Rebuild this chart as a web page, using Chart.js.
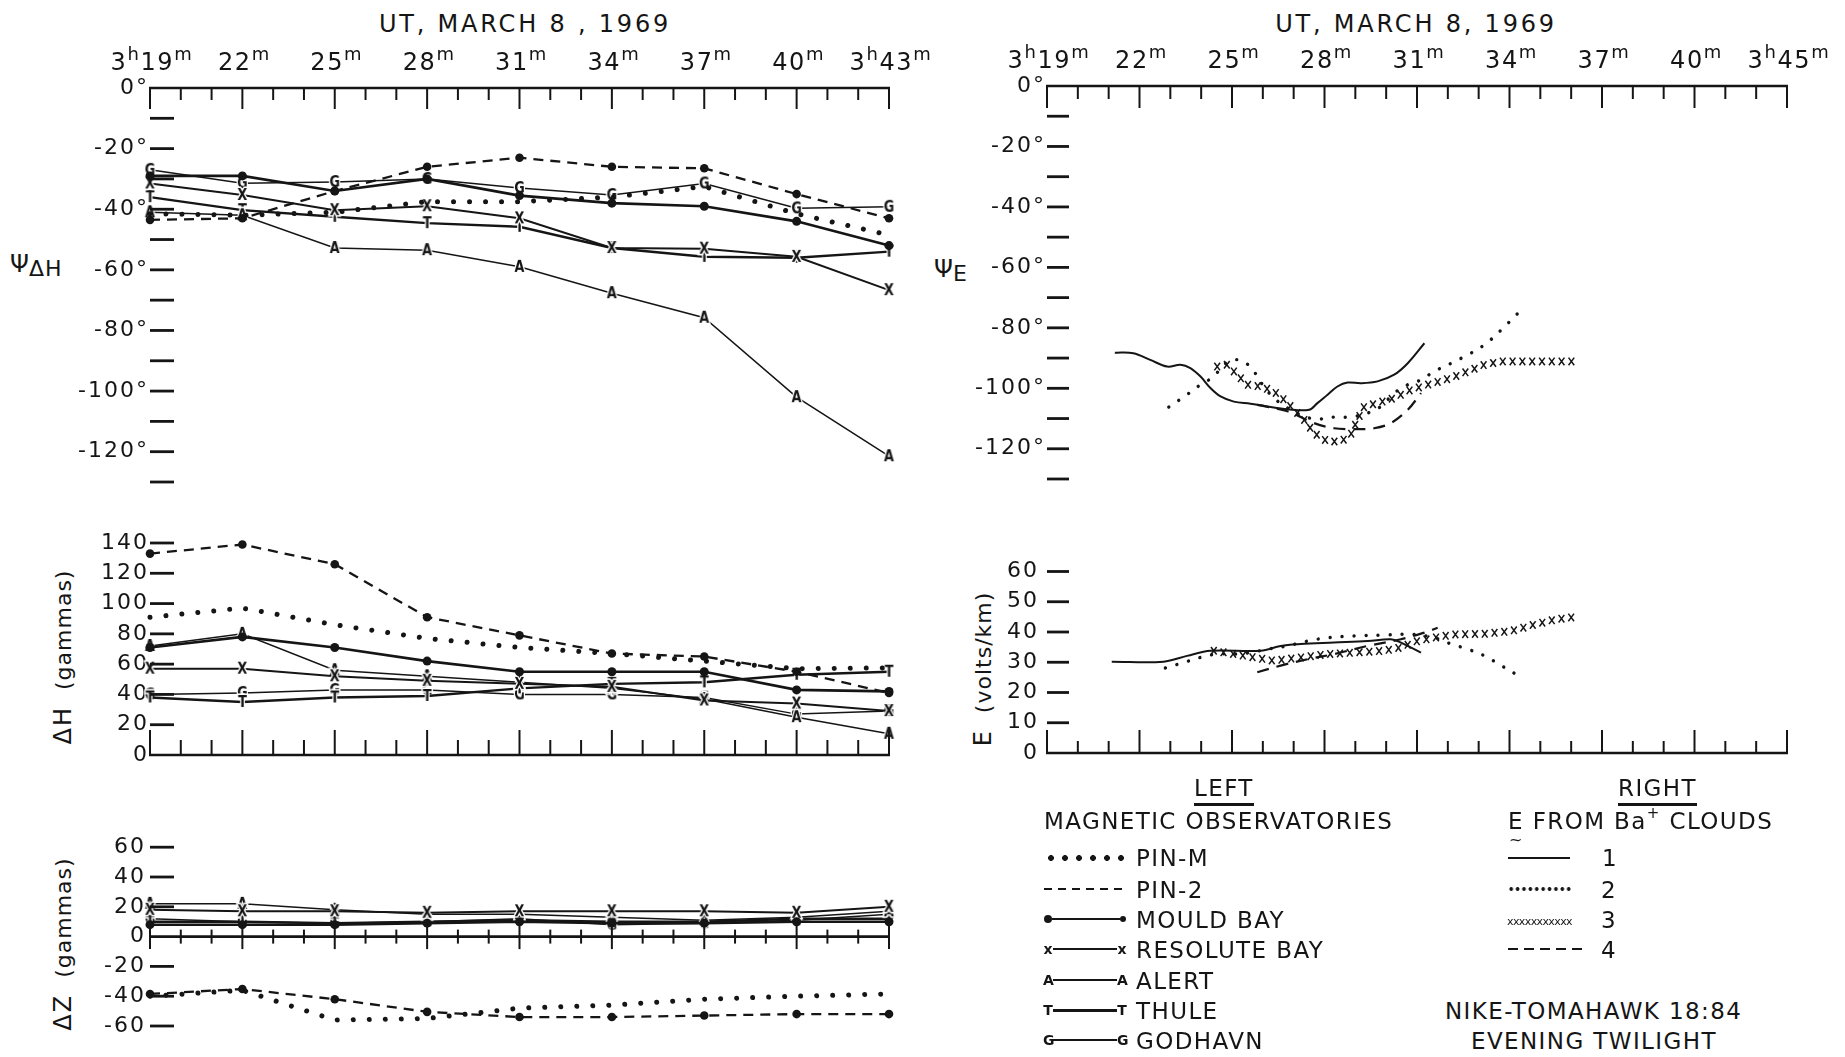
<!DOCTYPE html>
<html>
<head>
<meta charset="utf-8">
<script src="https://cdn.jsdelivr.net/npm/chart.js@4.4.1/dist/chart.umd.min.js"></script>
<style>
  html, body { margin: 0; padding: 0; background: #fff; }
  body { width: 1845px; height: 1057px; position: relative; overflow: hidden;
         font-family: "DejaVu Sans", "Liberation Sans", sans-serif; color: #151515; }
  canvas { position: absolute; }
  .t { position: absolute; white-space: nowrap; font-size: 23px; line-height: 23px; letter-spacing: 1.4px; }
  .t sup { font-size: 15px; line-height: 0; position: relative; top: -2px; }
  .title { font-size: 24px; line-height: 24px; letter-spacing: 2.8px; transform: translateX(-50%); }
  .rot { position: absolute; white-space: nowrap; transform: translate(-50%, -50%) rotate(-90deg); font-size: 22px; line-height: 24px; }
  .rot b { font-weight: normal; font-size: 24px; letter-spacing: 2px; margin-right: 16px; }
  .rot span { letter-spacing: 1px; }
  .psi { position: absolute; font-size: 24px; line-height: 24px; }
  .psi sub { font-size: 22px; line-height: 0; position: relative; top: 4px; vertical-align: baseline; letter-spacing: 1px; }
  .ul { border-bottom: 3px solid #151515; padding-bottom: 2px; }
  .smp { position: absolute; height: 16px; display: flex; align-items: center; }
  .smp .ln { flex: 1; height: 2px; background: #151515; }
  .smp .mk { font-size: 14px; line-height: 14px; width: 10px; text-align: center; }
  .smp .dt { width: 8px; height: 8px; border-radius: 50%; background: #151515; }
</style>
</head>
<body>

<!-- titles -->
<div class="t title" style="left:525px; top:12px;">UT, MARCH 8 , 1969</div>
<div class="t title" style="left:1416px; top:12px;">UT, MARCH 8, 1969</div>

<!-- axis titles -->
<div class="psi" style="left:10px; top:252px;">Ψ<sub>ΔH</sub></div>
<div class="psi" style="left:934px; top:257px;">Ψ<sub>E</sub></div>
<div class="rot" style="left:63px; top:657px;"><b>ΔH</b><span>(gammas)</span></div>
<div class="rot" style="left:63px; top:944px;"><b>ΔZ</b><span>(gammas)</span></div>
<div class="rot" style="left:983px; top:669px;"><b>E</b><span>(volts/km)</span></div>

<canvas id="lt" width="945" height="500" style="left:0; top:0;"></canvas>
<canvas id="lm" width="945" height="250" style="left:0; top:520px;"></canvas>
<canvas id="lb" width="945" height="220" style="left:0; top:830px;"></canvas>
<canvas id="rt" width="948" height="500" style="left:897px; top:0;"></canvas>
<canvas id="rm" width="948" height="240" style="left:897px; top:540px;"></canvas>

<!-- legend -->
<div class="t" style="left:1194px; top:777px;"><span class="ul">LEFT</span></div>
<div class="t" style="left:1618px; top:777px;"><span class="ul">RIGHT</span></div>
<div class="t" style="left:1044px; top:810px;">MAGNETIC OBSERVATORIES</div>
<div class="t" style="left:1508px; top:810px;">E FROM Ba<sup>+</sup> CLOUDS</div>
<div class="t" style="left:1509px; top:828px; font-size:16px;">~</div>

<div class="smp" style="left:1044px; top:850px; width:84px; background:radial-gradient(circle, #151515 2.6px, transparent 3.2px) 0 0/14px 16px repeat-x;"></div>
<div class="t" style="left:1136px; top:847px;">PIN-M</div>
<div class="smp" style="left:1044px; top:881px; width:82px; background:repeating-linear-gradient(90deg, #151515 0 8px, transparent 8px 14px) 0 7px/100% 2px no-repeat;"></div>
<div class="t" style="left:1136px; top:879px;">PIN-2</div>
<div class="smp" style="left:1044px; top:911px; width:82px;"><i class="dt"></i><i class="ln"></i><i class="dt" style="width:6px;height:6px;"></i></div>
<div class="t" style="left:1136px; top:909px;">MOULD BAY</div>
<div class="smp" style="left:1043px; top:941px; width:84px;"><b class="mk">x</b><i class="ln"></i><b class="mk">x</b></div>
<div class="t" style="left:1136px; top:939px;">RESOLUTE BAY</div>
<div class="smp" style="left:1043px; top:972px; width:84px;"><b class="mk">A</b><i class="ln"></i><b class="mk">A</b></div>
<div class="t" style="left:1136px; top:970px;">ALERT</div>
<div class="smp" style="left:1043px; top:1002px; width:84px;"><b class="mk">T</b><i class="ln" style="height:3px"></i><b class="mk">T</b></div>
<div class="t" style="left:1136px; top:1000px;">THULE</div>
<div class="smp" style="left:1043px; top:1032px; width:84px;"><b class="mk">G</b><i class="ln" style="height:1.5px"></i><b class="mk">G</b></div>
<div class="t" style="left:1136px; top:1030px;">GODHAVN</div>

<div class="smp" style="left:1508px; top:850px; width:62px;"><i class="ln"></i></div>
<div class="t" style="left:1602px; top:847px;">1</div>
<div class="smp" style="left:1508px; top:881px; width:64px; background:radial-gradient(circle, #151515 1.6px, transparent 2.1px) 0 0/6.4px 16px repeat-x;"></div>
<div class="t" style="left:1601px; top:879px;">2</div>
<div class="t" style="left:1507px; top:916px; font-size:11px; line-height:11px; letter-spacing:-0.6px;">xxxxxxxxxxx</div>
<div class="t" style="left:1601px; top:909px;">3</div>
<div class="smp" style="left:1508px; top:941px; width:76px; background:repeating-linear-gradient(90deg, #151515 0 10px, transparent 10px 16px) 0 7px/100% 2px no-repeat;"></div>
<div class="t" style="left:1601px; top:939px;">4</div>

<div class="t" style="left:1445px; top:1000px;">NIKE-TOMAHAWK 18:84</div>
<div class="t" style="left:1471px; top:1030px;">EVENING TWILIGHT</div>

<script>
// ---- data ----
const MINUTES = [19, 22, 25, 28, 31, 34, 37, 40, 43];
const LEFT_TICK_LABELS = ['3h19m', '22m', '25m', '28m', '31m', '34m', '37m', '40m', '3h43m'];
const RIGHT_TICK_LABELS = ['3h19m', '22m', '25m', '28m', '31m', '34m', '37m', '40m', '3h45m'];

// Psi delta-H (degrees), one value per MINUTES entry
const PSI_PIN_M    = [-41.5, -42, -41, -37.5, -37.5, -36, -32.5, -41.5, -48.5];
const PSI_PIN_2    = [-43.5, -43, -34, -26, -23, -26, -26.5, -35, -43];
const PSI_MOULD    = [-29, -29, -34, -30, -35.5, -38, -39, -44, -52];
const PSI_RESOLUTE = [-31.5, -35.3, -40.3, -39, -43, -52.8, -53, -55.7, -66.7];
const PSI_ALERT    = [-41, -42, -52.8, -53.5, -59, -67.7, -75.8, -102, -121.5];
const PSI_THULE    = [-36, -40.3, -42.5, -44.6, -45.8, -52.8, -55.7, -56, -54];
const PSI_GODHAVN  = [-27, -31.4, -31, -30, -33, -35.3, -31.5, -39.7, -39.2];

// delta-H (gammas)
const DH_PIN_M    = [91, 97, 86, 77, 71, 67, 62, 57, 57.5];
const DH_PIN_2    = [133, 139, 126, 91, 79, 67, 65, 55, 41];
const DH_MOULD    = [71, 78, 71, 62, 55, 55, 55, 43, 42];
const DH_RESOLUTE = [57, 57, 52, 49, 47, 45, 36, 34, 29];
const DH_ALERT    = [72, 80, 56, 52, 48, 44, 37, 25, 14];
const DH_THULE    = [38, 35, 38, 39, 44, 47, 48, 53, 55];
const DH_GODHAVN  = [40, 41, 43, 43, 40, 40, 38, 27, 29];

// delta-Z (gammas)
const DZ_PIN_M    = [-40, -36, -56, -55, -48, -46, -42, -40, -38.5];
const DZ_PIN_2    = [-38.5, -35.2, -42, -50.5, -54, -54, -53, -52, -52];
const DZ_MOULD    = [8, 8, 8, 9, 10, 9, 9, 10, 10];
const DZ_RESOLUTE = [18, 17, 17, 16, 17, 17, 17, 16, 20];
const DZ_ALERT    = [22, 22, 18, 15, 15, 13, 11, 13, 17];
const DZ_THULE    = [10, 10, 9, 10, 11, 10, 10, 12, 12];
const DZ_GODHAVN  = [12, 10, 9, 10, 12, 8, 9, 11, 15];

// Psi E from Ba+ clouds (minutes after 3h, degrees)
const PSI_E1_T = [21.2, 21.8, 22.35, 22.9, 23.33, 23.65, 23.98, 24.3, 24.63, 25.06, 25.6, 26.14, 26.8, 27.5, 27.77, 28.1, 28.42, 28.75, 29.18, 29.72, 30.26, 30.7, 31.24];
const PSI_E1   = [-88.2, -88.4, -90.6, -92.8, -92.2, -93.3, -96.1, -99.9, -102.7, -104.4, -105.1, -106, -106.9, -107.1, -104.9, -102.1, -99.4, -98.1, -98.3, -97.7, -95.5, -91.7, -85.1];
const PSI_E2_T = [22.95, 23.54, 23.98, 24.41, 24.73, 25.06, 25.38, 25.71, 26.03, 26.36, 26.8, 27.34, 27.77, 28.31, 28.85, 29.4, 29.83, 30.26, 30.7, 31.13, 31.56, 32.11, 32.65, 33.19, 33.73, 34.28];
const PSI_E2   = [-106.2, -102.1, -98.8, -96.1, -92.2, -90.6, -91.1, -94.4, -99.4, -103.2, -106.5, -109.3, -110.2, -109.5, -109.5, -108.2, -106, -101.6, -98.8, -97.2, -94.4, -91.7, -88.9, -85.6, -80.7, -75.1];
const PSI_E3_T = [24.52, 24.84, 25.17, 25.49, 25.93, 26.36, 26.69, 27.01, 27.34, 27.66, 28.1, 28.53, 28.85, 29.02, 29.29, 29.72, 30.26, 30.8, 31.35, 32.11, 32.65, 33.19, 33.73, 34.82, 36.06];
const PSI_E3   = [-92.8, -92.2, -95.5, -98.8, -99.4, -101, -103.8, -107.1, -110.4, -114.8, -117.6, -117.6, -115.4, -111.5, -106, -104.9, -103.2, -100.5, -98.8, -96.6, -94.4, -92.2, -91.1, -91.1, -91.1];
const PSI_E4_T = [25.82, 26.8, 27.66, 28.31, 28.96, 29.61, 30.15, 30.7, 31.13];
const PSI_E4   = [-105.5, -107.6, -111.5, -113.2, -113.5, -113.2, -111.5, -107.1, -101.6];

// E magnitude (volts/km)
const E1_T = [21.1, 22.78, 23.54, 24.3, 25.93, 26.58, 27.23, 28.31, 29.4, 30.15, 30.48, 31.13];
const E1   = [30.2, 30.2, 32.1, 33.8, 33.8, 35.4, 36, 36.5, 37, 37.6, 36.5, 33.2];
const E2_T = [22.84, 23.43, 23.98, 24.52, 25.06, 25.6, 26.14, 26.8, 27.45, 28.1, 28.96, 29.94, 30.91, 31.56, 32.11, 32.65, 33.19, 33.73, 34.28];
const E2   = [28.1, 29.9, 31.6, 32.7, 32.7, 33.2, 34.3, 35.4, 37, 38.1, 38.7, 39, 39.2, 38.1, 36, 34.3, 32.1, 28.9, 25.6];
const E3_T = [24.41, 25.06, 25.71, 26.36, 27.23, 28.1, 28.96, 29.94, 30.48, 31.02, 31.56, 32.21, 33.19, 34.06, 34.82, 35.47, 36.06];
const E3   = [33.8, 32.7, 31.6, 30.5, 31.6, 32.7, 33.2, 33.8, 34.9, 37, 38.1, 39.2, 39.4, 40.3, 42.5, 44.1, 44.9];
const E4_T = [25.82, 26.58, 27.45, 28.31, 29.4, 30.48, 31.24, 31.67];
const E4   = [26.7, 28.9, 31, 32.7, 35.4, 37.6, 39.8, 41.4];

// ---- drawing helpers ----
const INK = '#151515';
const FONT = '"DejaVu Sans", "Liberation Sans", sans-serif';
Chart.defaults.font.family = FONT;
Chart.defaults.color = INK;

const pts = (xs, ys) => xs.map((x, i) => ({ x, y: ys[i] }));

// small letter used as point marker (X, A, T, G)
function letterMarker(ch) {
  const c = document.createElement('canvas');
  c.width = 15; c.height = 20;
  const g = c.getContext('2d');
  g.font = 'bold 16px ' + FONT;
  g.textAlign = 'center'; g.textBaseline = 'middle';
  g.setTransform(0.8, 0, 0, 1, 7.5 * 0.2, 0);
  g.lineWidth = 3; g.strokeStyle = '#fff';
  g.strokeText(ch, 7.5, 10.5);
  g.fillStyle = INK; g.fillText(ch, 7.5, 10.5);
  return c;
}
const MK = { X: letterMarker('X'), A: letterMarker('A'), T: letterMarker('T'), G: letterMarker('G') };

function pinM(ys) {
  return { data: pts(MINUTES, ys), borderColor: INK, borderWidth: 5, borderDash: [0.01, 16],
           borderCapStyle: 'round', pointRadius: 0, clip: false };
}
function pin2(ys) {
  return { data: pts(MINUTES, ys), borderColor: INK, borderWidth: 2.3, borderDash: [10, 7],
           pointRadius: 4.3, pointBackgroundColor: INK, pointBorderWidth: 0, clip: false };
}
function mould(ys) {
  return { data: pts(MINUTES, ys), borderColor: INK, borderWidth: 2.6,
           pointRadius: 4.5, pointBackgroundColor: INK, pointBorderWidth: 0, clip: false };
}
function lettered(ys, ch, w) {
  return { data: pts(MINUTES, ys), borderColor: INK, borderWidth: w,
           pointStyle: MK[ch], pointRadius: 5, clip: false };
}
function stations(pm, p2, mb, rb, al, th, gd) {
  return [pinM(pm), pin2(p2), mould(mb), lettered(rb, 'X', 2), lettered(al, 'A', 1.5),
          lettered(th, 'T', 2.4), lettered(gd, 'G', 1.5)];
}
function clouds(s1, s2, s3, s4) {
  return [
    { data: s1, borderColor: INK, borderWidth: 2, tension: 0.35, pointRadius: 0, clip: false },
    { data: s2, borderColor: INK, borderWidth: 3.4, borderDash: [0.01, 12], borderCapStyle: 'round',
      tension: 0.35, pointRadius: 0, clip: false },
    { data: s3, borderColor: 'rgba(0,0,0,0)', borderWidth: 0, pointRadius: 0, stamp: 'x', clip: false },
    { data: s4, borderColor: INK, borderWidth: 2.2, borderDash: [12, 8], tension: 0.35, pointRadius: 0, clip: false }
  ];
}

function drawTimeLabel(ctx, text, cx, base) {
  const parts = text.match(/\d+|[a-z]/g);
  const big = '24px ' + FONT, small = '18px ' + FONT, gap = 1.6;
  let w = 0;
  parts.forEach(p => {
    ctx.font = /\d/.test(p) ? big : small;
    for (const ch of p) w += ctx.measureText(ch).width + gap;
  });
  let px = cx - w / 2;
  parts.forEach(p => {
    const sup = !/\d/.test(p);
    ctx.font = sup ? small : big;
    for (const ch of p) {
      ctx.fillText(ch, px, sup ? base - 10 : base);
      px += ctx.measureText(ch).width + gap;
    }
  });
}

// hand-drafted style axes: time line with minute ticks, short y dashes inside the frame
const sciAxes = {
  id: 'sciAxes',
  beforeDraw(chart) { chart.ctx.letterSpacing = '2px'; },
  afterDraw(chart, args, o) {
    const { ctx, chartArea: a, scales: { x, y } } = chart;
    ctx.letterSpacing = '0px';
    if (!o.side) return;
    const seg = (x1, y1, x2, y2) => { ctx.beginPath(); ctx.moveTo(x1, y1); ctx.lineTo(x2, y2); ctx.stroke(); };
    ctx.save();
    ctx.strokeStyle = INK; ctx.fillStyle = INK;
    const ay = o.side === 'top' ? a.top : o.side === 'bottom' ? a.bottom : y.getPixelForValue(0);
    ctx.lineWidth = 2.6;
    seg(x.getPixelForValue(19) - 1, ay, x.getPixelForValue(43) + 1, ay);
    ctx.lineWidth = 2;
    for (let m = 19; m <= 43; m++) {
      const px = x.getPixelForValue(m);
      const major = (m - 19) % 3 === 0;
      const len = major ? o.major : o.minor;
      if (o.side === 'top') seg(px, ay, px, ay + len);
      else if (o.side === 'bottom') seg(px, ay, px, ay - len);
      else seg(px, ay - len * 0.5, px, ay + len * 0.5);
    }
    ctx.lineWidth = 2.8;
    (o.dashes || []).forEach(v => {
      const py = y.getPixelForValue(v);
      seg(a.left, py, a.left + o.dashLen, py);
    });
    if (o.labels) {
      ctx.textAlign = 'left'; ctx.textBaseline = 'alphabetic';
      o.labels.forEach((lab, i) => drawTimeLabel(ctx, lab, x.getPixelForValue(MINUTES[i]) + 2, a.top - 18));
    }
    ctx.restore();
  }
};

// draws a row of small x marks along a dataset's polyline
const xStamp = {
  id: 'xStamp',
  afterDatasetsDraw(chart) {
    const ctx = chart.ctx;
    chart.data.datasets.forEach((ds, i) => {
      if (ds.stamp !== 'x') return;
      const p = chart.getDatasetMeta(i).data.map(e => ({ x: e.x, y: e.y }));
      ctx.save();
      ctx.strokeStyle = INK; ctx.lineWidth = 1.5;
      const step = 9.8, h = 3.8;
      let carry = 0;
      for (let k = 0; k < p.length - 1; k++) {
        const dx = p[k + 1].x - p[k].x, dy = p[k + 1].y - p[k].y;
        const L = Math.hypot(dx, dy);
        let d = carry;
        while (d <= L) {
          const cx = p[k].x + dx * d / L, cy = p[k].y + dy * d / L;
          ctx.beginPath();
          ctx.moveTo(cx - h * 0.75, cy - h); ctx.lineTo(cx + h * 0.75, cy + h);
          ctx.moveTo(cx + h * 0.75, cy - h); ctx.lineTo(cx - h * 0.75, cy + h);
          ctx.stroke();
          d += step;
        }
        carry = d - L;
      }
      ctx.restore();
    });
  }
};

function yAxis(min, max, labelVals, fmt, pad) {
  return {
    type: 'linear', min, max, position: 'left',
    grid: { display: false, drawTicks: false }, border: { display: false },
    afterFit: s => { s.width = 150; },
    afterBuildTicks: s => { s.ticks = labelVals.map(v => ({ value: v })); },
    ticks: { callback: fmt, padding: pad, font: { size: 22 }, color: INK, autoSkip: false }
  };
}

function panel(id, datasets, yCfg, padding, axisOpts) {
  new Chart(document.getElementById(id), {
    type: 'line',
    data: { datasets },
    plugins: [sciAxes, xStamp],
    options: {
      responsive: false, animation: false, events: [],
      layout: { padding },
      scales: { x: { type: 'linear', min: 19, max: 43, display: false }, y: yCfg },
      plugins: { legend: { display: false }, tooltip: { enabled: false }, sciAxes: axisOpts }
    }
  });
}

const deg = v => v + '°';
const num = v => String(v);
const tens = (a, b) => { const r = []; for (let v = a; v >= b; v -= 10) r.push(v); return r; };

// left: Psi delta-H
panel('lt', stations(PSI_PIN_M, PSI_PIN_2, PSI_MOULD, PSI_RESOLUTE, PSI_ALERT, PSI_THULE, PSI_GODHAVN),
  yAxis(-130, 0, [0, -20, -40, -60, -80, -100, -120], deg, 1),
  { left: 0, right: 56, top: 88, bottom: 18 },
  { side: 'top', major: 21, minor: 12, dashLen: 24, dashes: tens(-10, -130), labels: LEFT_TICK_LABELS });

// left: delta-H
panel('lm', stations(DH_PIN_M, DH_PIN_2, DH_MOULD, DH_RESOLUTE, DH_ALERT, DH_THULE, DH_GODHAVN),
  yAxis(0, 140, [0, 20, 40, 60, 80, 100, 120, 140], num, 1),
  { left: 0, right: 56, top: 23, bottom: 15 },
  { side: 'bottom', major: 25, minor: 15, dashLen: 24, dashes: [20, 40, 60, 80, 100, 120, 140] });

// left: delta-Z
panel('lb', stations(DZ_PIN_M, DZ_PIN_2, DZ_MOULD, DZ_RESOLUTE, DZ_ALERT, DZ_THULE, DZ_GODHAVN),
  yAxis(-60, 60, [60, 40, 20, 0, -20, -40, -60], num, 4),
  { left: 0, right: 56, top: 14.5, bottom: 24 },
  { side: 'zero', major: 25, minor: 14, dashLen: 24, dashes: [60, 40, 20, -20, -40, -60] });

// right: Psi E
panel('rt', clouds(pts(PSI_E1_T, PSI_E1), pts(PSI_E2_T, PSI_E2), pts(PSI_E3_T, PSI_E3), pts(PSI_E4_T, PSI_E4)),
  yAxis(-130, 0, [0, -20, -40, -60, -80, -100, -120], deg, 1),
  { left: 0, right: 58, top: 86, bottom: 21 },
  { side: 'top', major: 22, minor: 13, dashLen: 22, dashes: tens(-10, -130), labels: RIGHT_TICK_LABELS });

// right: E magnitude
panel('rm', clouds(pts(E1_T, E1), pts(E2_T, E2), pts(E3_T, E3), pts(E4_T, E4)),
  yAxis(0, 60, [0, 10, 20, 30, 40, 50, 60], num, 8),
  { left: 0, right: 58, top: 31.5, bottom: 27 },
  { side: 'bottom', major: 23, minor: 12, dashLen: 22, dashes: [10, 20, 30, 40, 50, 60] });
</script>
</body>
</html>
